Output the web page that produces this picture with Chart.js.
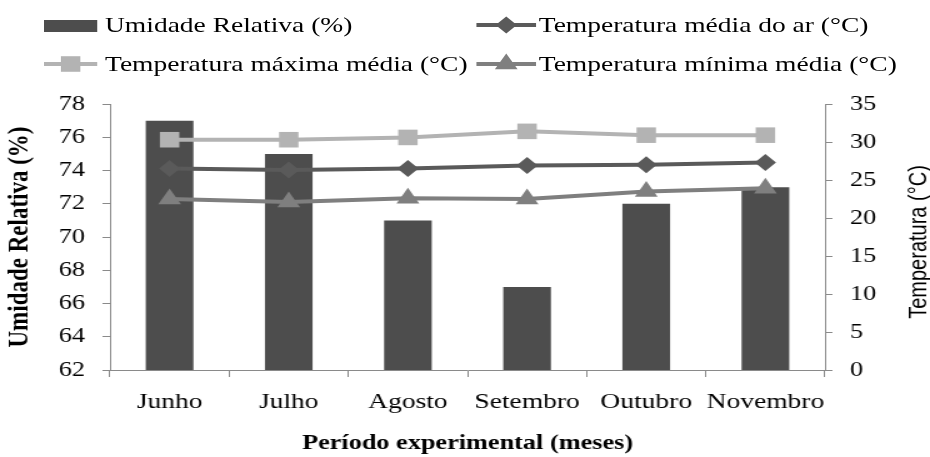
<!DOCTYPE html>
<html>
<head>
<meta charset="utf-8">
<script src="https://cdn.jsdelivr.net/npm/chart.js@4"></script>
<style>
  html, body { margin: 0; padding: 0; background: #fff; overflow: hidden; }
  /* The figure is laid out on a 744px-wide stage and widened to 930px. */
  #stage { position: absolute; left: 0; top: 0; width: 744px; height: 457px;
           transform: scaleX(1.25); transform-origin: 0 0; }
  #chartBox { position: absolute; left: 0; top: 0; width: 744px; height: 457px; }
  .key { position: absolute; height: 30px; display: flex; align-items: center;
         font-family: "Liberation Serif", serif; font-size: 22px; color: #000; white-space: nowrap; }
  .key svg { display: block; flex: none; }
</style>
</head>
<body>
<div id="stage">
  <div id="chartBox"><canvas id="chart"></canvas></div>
  <div id="legend"></div>
</div>
<script>
// Monthly climate data for the experimental period
const months = ['Junho', 'Julho', 'Agosto', 'Setembro', 'Outubro', 'Novembro'];
const umidadeRelativa = [77, 75, 71, 67, 72, 73];
const tempMedia = [26.5, 26.3, 26.5, 26.9, 27.0, 27.3];
const tempMaxima = [30.3, 30.3, 30.6, 31.4, 30.9, 30.9];
const tempMinima = [22.5, 22.1, 22.6, 22.5, 23.5, 23.9];

const seriesNames = [
  'Umidade Relativa (%)',
  'Temperatura média do ar (°C)',
  'Temperatura máxima média (°C)',
  'Temperatura mínima média (°C)'
];
const umidadeRange = [62, 78, 2];   // min, max, step
const tempRange = [0, 35, 5];

const SERIF = '"Liberation Serif", serif';
const axisGray = '#8a8a8a';
const colors = { bar: '#4d4d4d', media: '#5a5a5a', maxima: '#b3b3b3', minima: '#7f7f7f' };

// Rotated title for the temperature axis (reads bottom to top)
const rightTitle = {
  id: 'rightTitle',
  afterDraw(chart) {
    const s = chart.scales.y1;
    const ctx = chart.ctx;
    ctx.save();
    ctx.translate(s.right - 9, (s.top + s.bottom) / 2 + 5);
    ctx.rotate(-Math.PI / 2);
    ctx.font = '20px "Liberation Sans", sans-serif';
    ctx.fillStyle = '#000';
    ctx.textAlign = 'center';
    ctx.textBaseline = 'middle';
    ctx.fillText('Temperatura (°C)', 0, 0);
    ctx.restore();
  }
};

const lineSeries = (label, data, color, style, radius) => ({
  type: 'line', label, data, yAxisID: 'y1', order: 1,
  borderColor: color, borderWidth: 4, tension: 0,
  pointStyle: style, pointRadius: radius, pointHoverRadius: radius,
  pointBackgroundColor: color, pointBorderColor: color, pointBorderWidth: 0
});

new Chart(document.getElementById('chart'), {
  type: 'bar',
  data: {
    labels: months,
    datasets: [
      { label: seriesNames[0], data: umidadeRelativa, yAxisID: 'y', order: 2,
        backgroundColor: colors.bar, barPercentage: 0.4, categoryPercentage: 1 },
      lineSeries(seriesNames[1], tempMedia, colors.media, 'rectRot', 8.5),
      lineSeries(seriesNames[2], tempMaxima, colors.maxima, 'rect', 11),
      lineSeries(seriesNames[3], tempMinima, colors.minima, 'triangle', 10.5)
    ]
  },
  options: {
    responsive: true,
    maintainAspectRatio: false,
    animation: false,
    devicePixelRatio: 1,
    layout: { padding: { top: 104, left: 0, right: 0, bottom: 0 } },
    plugins: { legend: { display: false }, tooltip: { enabled: false } },
    scales: {
      x: {
        offset: true,
        grid: { display: true, offset: true, drawOnChartArea: false, drawTicks: true,
                tickLength: 7, color: axisGray },
        border: { color: axisGray, width: 1 },
        ticks: { font: { family: SERIF, size: 22 }, color: '#000', padding: 12,
                 maxRotation: 0, autoSkip: false },
        title: { display: true, text: 'Período experimental (meses)', color: '#000',
                 font: { family: SERIF, size: 21, weight: 'bold' }, padding: { top: 0, bottom: 1 } },
        afterFit(s) { s.height = 87; }
      },
      y: {
        position: 'left',
        min: umidadeRange[0], max: umidadeRange[1],
        grid: { drawOnChartArea: false, drawTicks: true, tickLength: 6, color: axisGray },
        border: { color: axisGray, width: 1 },
        ticks: { stepSize: umidadeRange[2], font: { family: SERIF, size: 21 }, color: '#000', padding: 14 },
        title: { display: true, text: 'Umidade Relativa (%)', color: '#000',
                 font: { family: SERIF, size: 23, weight: 'bold' }, padding: { top: 2, bottom: 0 } },
        afterFit(s) { s.width = 88; }
      },
      y1: {
        position: 'right',
        min: tempRange[0], max: tempRange[1],
        grid: { drawOnChartArea: false, drawTicks: true, tickLength: 6, color: axisGray },
        border: { color: axisGray, width: 1 },
        ticks: { stepSize: tempRange[2], font: { family: SERIF, size: 21 }, color: '#000', padding: 14 },
        afterFit(s) { s.width = 84; }
      }
    }
  },
  plugins: [rightTitle]
});

// Legend: two columns, two rows
const NS = 'http://www.w3.org/2000/svg';
function keySymbol(kind, color, w) {
  const svg = document.createElementNS(NS, 'svg');
  svg.setAttribute('width', w); svg.setAttribute('height', 24);
  const cx = w / 2, cy = 12;
  const add = (tag, attrs) => {
    const el = document.createElementNS(NS, tag);
    for (const k in attrs) el.setAttribute(k, attrs[k]);
    svg.appendChild(el);
  };
  if (kind === 'box') {
    add('rect', { x: 0, y: 7, width: w, height: 12, fill: color });
  } else {
    add('line', { x1: 0, y1: cy, x2: w, y2: cy, stroke: color, 'stroke-width': 4 });
    if (kind === 'rect') {
      const h = 11 * Math.SQRT1_2;
      add('rect', { x: cx - h, y: cy - h, width: 2 * h, height: 2 * h, fill: color });
    } else if (kind === 'rectRot') {
      const r = 8.5;
      add('polygon', { points: `${cx - r},${cy} ${cx},${cy - r} ${cx + r},${cy} ${cx},${cy + r}`, fill: color });
    } else if (kind === 'triangle') {
      const r = 10.5, hw = r * Math.cos(Math.PI / 6);
      add('polygon', { points: `${cx},${cy - r} ${cx + hw},${cy + r / 2} ${cx - hw},${cy + r / 2}`, fill: color });
    }
  }
  return svg;
}
const keys = [
  { name: seriesNames[0], kind: 'box', color: colors.bar, left: 35, top: 10, w: 43, gap: 6 },
  { name: seriesNames[1], kind: 'rectRot', color: colors.media, left: 381, top: 10, w: 48, gap: 2 },
  { name: seriesNames[2], kind: 'rect', color: colors.maxima, left: 35, top: 49, w: 43, gap: 6 },
  { name: seriesNames[3], kind: 'triangle', color: colors.minima, left: 381, top: 49, w: 48, gap: 2 }
];
const legend = document.getElementById('legend');
keys.forEach(k => {
  const div = document.createElement('div');
  div.className = 'key';
  div.style.left = k.left + 'px';
  div.style.top = k.top + 'px';
  const sym = keySymbol(k.kind, k.color, k.w);
  sym.style.marginRight = k.gap + 'px';
  div.appendChild(sym);
  const span = document.createElement('span');
  span.textContent = k.name;
  div.appendChild(span);
  legend.appendChild(div);
});
</script>
</body>
</html>
